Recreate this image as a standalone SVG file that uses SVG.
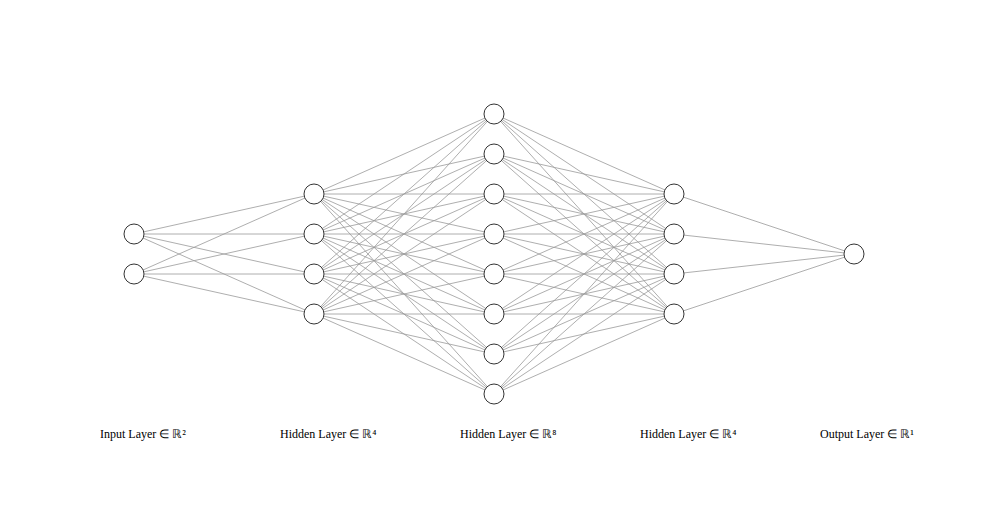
<svg xmlns="http://www.w3.org/2000/svg" width="981" height="532" viewBox="0 0 981 532">
<style>
.c{stroke:#999;stroke-width:0.8;fill:none}
.n{fill:#fff;stroke:#333;stroke-width:1}
.t{font-family:"Liberation Serif",serif;font-size:12px;fill:#000}
</style>
<rect width="981" height="532" fill="#fff"/>
<g id="connectors" class="c">
<path d="M134,234L314,194M134,234L314,234M134,234L314,274M134,234L314,314M134,274L314,194M134,274L314,234M134,274L314,274M134,274L314,314"/>
<path d="M314,194L494,114M314,194L494,154M314,194L494,194M314,194L494,234M314,194L494,274M314,194L494,314M314,194L494,354M314,194L494,394
M314,234L494,114M314,234L494,154M314,234L494,194M314,234L494,234M314,234L494,274M314,234L494,314M314,234L494,354M314,234L494,394
M314,274L494,114M314,274L494,154M314,274L494,194M314,274L494,234M314,274L494,274M314,274L494,314M314,274L494,354M314,274L494,394
M314,314L494,114M314,314L494,154M314,314L494,194M314,314L494,234M314,314L494,274M314,314L494,314M314,314L494,354M314,314L494,394"/>
<path d="M674,194L494,114M674,194L494,154M674,194L494,194M674,194L494,234M674,194L494,274M674,194L494,314M674,194L494,354M674,194L494,394
M674,234L494,114M674,234L494,154M674,234L494,194M674,234L494,234M674,234L494,274M674,234L494,314M674,234L494,354M674,234L494,394
M674,274L494,114M674,274L494,154M674,274L494,194M674,274L494,234M674,274L494,274M674,274L494,314M674,274L494,354M674,274L494,394
M674,314L494,114M674,314L494,154M674,314L494,194M674,314L494,234M674,314L494,274M674,314L494,314M674,314L494,354M674,314L494,394"/>
<path d="M674,194L854,254M674,234L854,254M674,274L854,254M674,314L854,254"/>
</g>
<g id="layer1">
<circle id="n1_1" class="n" cx="134" cy="234" r="10"/>
<circle id="n1_2" class="n" cx="134" cy="274" r="10"/>
</g>
<g id="layer2">
<circle id="n2_1" class="n" cx="314" cy="194" r="10"/>
<circle id="n2_2" class="n" cx="314" cy="234" r="10"/>
<circle id="n2_3" class="n" cx="314" cy="274" r="10"/>
<circle id="n2_4" class="n" cx="314" cy="314" r="10"/>
</g>
<g id="layer3">
<circle id="n3_1" class="n" cx="494" cy="114" r="10"/>
<circle id="n3_2" class="n" cx="494" cy="154" r="10"/>
<circle id="n3_3" class="n" cx="494" cy="194" r="10"/>
<circle id="n3_4" class="n" cx="494" cy="234" r="10"/>
<circle id="n3_5" class="n" cx="494" cy="274" r="10"/>
<circle id="n3_6" class="n" cx="494" cy="314" r="10"/>
<circle id="n3_7" class="n" cx="494" cy="354" r="10"/>
<circle id="n3_8" class="n" cx="494" cy="394" r="10"/>
</g>
<g id="layer4">
<circle id="n4_1" class="n" cx="674" cy="194" r="10"/>
<circle id="n4_2" class="n" cx="674" cy="234" r="10"/>
<circle id="n4_3" class="n" cx="674" cy="274" r="10"/>
<circle id="n4_4" class="n" cx="674" cy="314" r="10"/>
</g>
<g id="layer5">
<circle id="n5_1" class="n" cx="854" cy="254" r="10"/>
</g>
<g id="labels">
<text class="t" x="100" y="438">Input Layer ∈ ℝ²</text>
<text class="t" x="280" y="438">Hidden Layer ∈ ℝ⁴</text>
<text class="t" x="460" y="438">Hidden Layer ∈ ℝ⁸</text>
<text class="t" x="640" y="438">Hidden Layer ∈ ℝ⁴</text>
<text class="t" x="820" y="438">Output Layer ∈ ℝ¹</text>
</g>
</svg>
